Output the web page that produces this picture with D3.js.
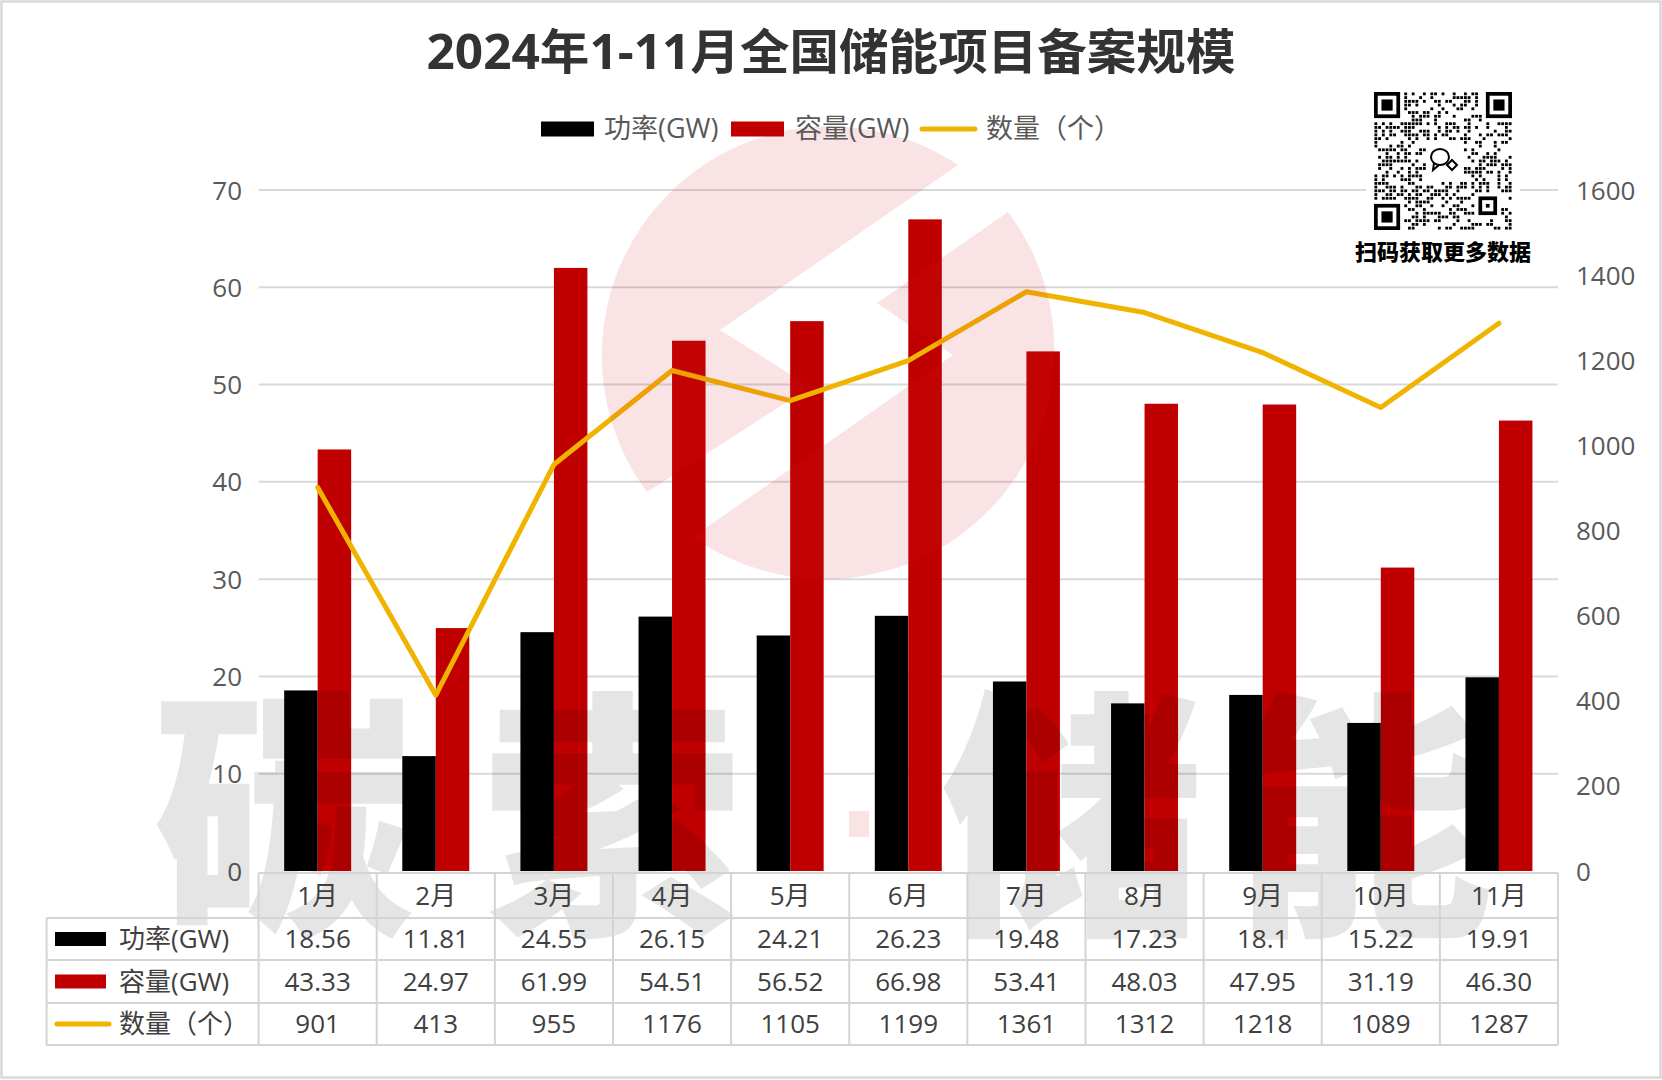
<!DOCTYPE html>
<html>
<head>
<meta charset="utf-8">
<script src="https://cdn.jsdelivr.net/npm/d3@7"></script>
<style>
  html, body { margin: 0; padding: 0; background: #fff; }
  svg { display: block; }
  text { font-family: "Open Sans", "Noto Sans CJK SC", sans-serif; }
</style>
</head>
<body>
<svg id="chart" width="1662" height="1080"></svg>
<script>
// ---------------- data ----------------
const title = "2024年1-11月全国储能项目备案规模";
const months = ["1月","2月","3月","4月","5月","6月","7月","8月","9月","10月","11月"];
const power = [18.56, 11.81, 24.55, 26.15, 24.21, 26.23, 19.48, 17.23, 18.1, 15.22, 19.91];
const capacity = [43.33, 24.97, 61.99, 54.51, 56.52, 66.98, 53.41, 48.03, 47.95, 31.19, 46.30];
const count = [901, 413, 955, 1176, 1105, 1199, 1361, 1312, 1218, 1089, 1287];
const leftTicks = [0, 10, 20, 30, 40, 50, 60, 70];
const rightTicks = [0, 200, 400, 600, 800, 1000, 1200, 1400, 1600];
const seriesNames = ["功率(GW)", "容量(GW)", "数量（个）"];
const qrCaption = "扫码获取更多数据";
const watermarkChars = ["碳", "索", "储", "能"];

// ---------------- layout ----------------
const W = 1662, H = 1080;
const plot = { left: 258.6, right: 1558, top: 190, bottom: 871 };
const colors = { power: "#000000", capacity: "#C00000", count: "#F0B400" };
const grid = "#d9d9d9";

const svg = d3.select("#chart");

// outer frame
svg.append("rect").attr("x", 1.5).attr("y", 1.5).attr("width", W - 3).attr("height", H - 4)
  .attr("fill", "#fff").attr("stroke", "#d9d9d9").attr("stroke-width", 2.5);

// scales
const x0 = d3.scaleBand().domain(months).range([plot.left, plot.right]).padding(0);
const groupW = x0.bandwidth() * 0.567;
const x1 = d3.scaleBand().domain(["power", "capacity"])
  .range([(x0.bandwidth() - groupW) / 2, (x0.bandwidth() + groupW) / 2]).padding(0);
const yL = d3.scaleLinear().domain([0, 70]).range([plot.bottom, plot.top]);
const yR = d3.scaleLinear().domain([0, 1600]).range([plot.bottom, plot.top]);

// gridlines
svg.append("g").selectAll("line").data(leftTicks.filter(d => d > 0)).join("line")
  .attr("x1", plot.left).attr("x2", plot.right)
  .attr("y1", d => yL(d)).attr("y2", d => yL(d))
  .attr("stroke", grid).attr("stroke-width", 2);

// left axis labels
const axL = svg.append("g").attr("transform", `translate(${242},0)`)
  .call(d3.axisLeft(yL).tickValues(leftTicks).tickFormat(d3.format("d")).tickSize(0).tickPadding(0));
axL.select(".domain").remove();
axL.selectAll("text").attr("font-size", 26).attr("fill", "#595959")
  .attr("font-family", "'Open Sans', 'Noto Sans CJK SC', sans-serif").attr("dy", "0.35em");

// right axis labels
const axR = svg.append("g").attr("transform", `translate(${1576},0)`)
  .call(d3.axisRight(yR).tickValues(rightTicks).tickFormat(d3.format("d")).tickSize(0).tickPadding(0));
axR.select(".domain").remove();
axR.selectAll("text").attr("font-size", 26).attr("fill", "#595959")
  .attr("font-family", "'Open Sans', 'Noto Sans CJK SC', sans-serif").attr("dy", "0.35em");

// bars
const barData = months.map((m, i) => ({ m, power: power[i], capacity: capacity[i] }));
const groups = svg.append("g").selectAll("g").data(barData).join("g")
  .attr("transform", d => `translate(${x0(d.m)},0)`);
groups.selectAll("rect").data(d => ["power", "capacity"].map(k => ({ k, v: d[k] }))).join("rect")
  .attr("x", d => x1(d.k)).attr("width", x1.bandwidth())
  .attr("y", d => yL(d.v)).attr("height", d => yL(0) - yL(d.v))
  .attr("fill", d => colors[d.k]);

// line
const line = d3.line().x((d, i) => x0(months[i]) + x0.bandwidth() / 2).y(d => yR(d));
svg.append("path").datum(count).attr("d", line)
  .attr("fill", "none").attr("stroke", colors.count).attr("stroke-width", 5)
  .attr("stroke-linejoin", "round").attr("stroke-linecap", "round");

// logo watermark (pale red overlay)
const logo = svg.append("g").attr("fill", "rgba(215,25,35,0.12)");
const r = 229;
const A = [958, 165], D = [720, 330], C = [810, 387], B = [647, 492];
logo.append("path").attr("d",
  `M${A[0]},${A[1]} A${r},${r} 0 0 0 ${B[0]},${B[1]} L${C[0]},${C[1]} L${D[0]},${D[1]} Z`);
const E = [1008, 212], F = [877, 303], G = [953, 355], Hh = [693, 537];
logo.append("path").attr("d",
  `M${E[0]},${E[1]} L${F[0]},${F[1]} L${G[0]},${G[1]} L${Hh[0]},${Hh[1]} A${r},${r} 0 0 0 ${E[0]},${E[1]} Z`);

// text watermark
const wm = svg.append("g").attr("fill", "rgba(0,0,0,0.1)")
  .attr("font-family", "'Noto Sans CJK SC', sans-serif").attr("font-weight", 900)
  .attr("font-size", 262).attr("text-anchor", "middle");
const wmX = [284, 612, 1072, 1362];
wm.selectAll("text").data(watermarkChars).join("text")
  .attr("x", (d, i) => wmX[i]).attr("y", 915).text(d => d);
svg.append("rect").attr("x", 849).attr("y", 811).attr("width", 20).attr("height", 26)
  .attr("fill", "rgba(215,25,35,0.12)");

// ---------------- data table ----------------
const tbl = svg.append("g");
const tLeft = 46.6;
const rowsY = [873, 918, 960, 1003, 1045];
const colX = months.map(m => x0(m)).concat([plot.right]);
const tStroke = "#d4d4d4";
tbl.append("line").attr("x1", plot.left).attr("x2", plot.right).attr("y1", rowsY[0]).attr("y2", rowsY[0])
  .attr("stroke", tStroke).attr("stroke-width", 2);
rowsY.slice(1).forEach(y => {
  tbl.append("line").attr("x1", tLeft).attr("x2", plot.right).attr("y1", y).attr("y2", y)
    .attr("stroke", tStroke).attr("stroke-width", 2);
});
colX.forEach(x => {
  tbl.append("line").attr("x1", x).attr("x2", x).attr("y1", rowsY[0]).attr("y2", rowsY[4])
    .attr("stroke", tStroke).attr("stroke-width", 2);
});
tbl.append("line").attr("x1", tLeft).attr("x2", tLeft).attr("y1", rowsY[1]).attr("y2", rowsY[4])
  .attr("stroke", tStroke).attr("stroke-width", 2);

const cellText = (x, y, t, anchor) => tbl.append("text").attr("x", x).attr("y", y)
  .attr("text-anchor", anchor || "middle").attr("dy", "0.35em")
  .attr("font-size", 26).attr("fill", "#404040").text(t);

months.forEach((m, i) => {
  const cxm = x0(m) + x0.bandwidth() / 2;
  cellText(cxm, (rowsY[0] + rowsY[1]) / 2, m);
  cellText(cxm, (rowsY[1] + rowsY[2]) / 2, String(power[i]));
  cellText(cxm, (rowsY[2] + rowsY[3]) / 2, d3.format(".2f")(capacity[i]));
  cellText(cxm, (rowsY[3] + rowsY[4]) / 2, String(count[i]));
});
[0, 1].forEach(k => {
  const yc = (rowsY[k + 1] + rowsY[k + 2]) / 2;
  tbl.append("rect").attr("x", 55).attr("y", yc - 7).attr("width", 51).attr("height", 14)
    .attr("fill", k === 0 ? colors.power : colors.capacity);
  cellText(119, yc, seriesNames[k], "start");
});
{
  const yc = (rowsY[3] + rowsY[4]) / 2;
  tbl.append("line").attr("x1", 57).attr("x2", 109).attr("y1", yc).attr("y2", yc)
    .attr("stroke", colors.count).attr("stroke-width", 5).attr("stroke-linecap", "round");
  cellText(119, yc, seriesNames[2], "start");
}

// ---------------- title ----------------
svg.append("text").attr("x", 831).attr("y", 52).attr("text-anchor", "middle").attr("dy", "0.35em")
  .attr("font-family", "'Noto Sans CJK SC', sans-serif").attr("font-weight", 700)
  .attr("font-size", 48).attr("fill", "#333333")
  .attr("textLength", 809).attr("lengthAdjust", "spacingAndGlyphs")
  .text(title);

// ---------------- legend ----------------
const lg = svg.append("g");
const ly = 129;
lg.append("rect").attr("x", 541).attr("y", ly - 7.5).attr("width", 53).attr("height", 15).attr("fill", colors.power);
lg.append("text").attr("x", 604).attr("y", ly).attr("dy", "0.35em").attr("font-size", 27).attr("fill", "#595959").text(seriesNames[0]);
lg.append("rect").attr("x", 731).attr("y", ly - 7.5).attr("width", 53).attr("height", 15).attr("fill", colors.capacity);
lg.append("text").attr("x", 795).attr("y", ly).attr("dy", "0.35em").attr("font-size", 27).attr("fill", "#595959").text(seriesNames[1]);
lg.append("line").attr("x1", 922).attr("x2", 975).attr("y1", ly).attr("y2", ly)
  .attr("stroke", colors.count).attr("stroke-width", 5).attr("stroke-linecap", "round");
lg.append("text").attr("x", 986).attr("y", ly).attr("dy", "0.35em").attr("font-size", 27).attr("fill", "#595959").text(seriesNames[2]);

// ---------------- QR code (decorative) ----------------
const qr = svg.append("g");
const qx = 1374, qy = 92, qs = 138, n = 37, ms = qs / n;
qr.append("rect").attr("x", qx - 8).attr("y", qy - 6).attr("width", qs + 16).attr("height", qs + 12).attr("fill", "#fff");
function inFinder(i, j) {
  return (i < 8 && j < 8) || (i < 8 && j >= n - 8) || (i >= n - 8 && j < 8);
}
function inCenter(i, j) { return i >= 13 && i <= 23 && j >= 14 && j <= 23; }
function inAlign(i, j) { return i >= 27 && i <= 33 && j >= 27 && j <= 33; }
const cells = [];
for (let i = 0; i < n; i++) for (let j = 0; j < n; j++) {
  if (inFinder(i, j) || inCenter(i, j) || inAlign(i, j)) continue;
  const h = ((i * 73856093) ^ (j * 19349663) ^ (i * j * 83492791)) >>> 0;
  if (h % 100 < 48) cells.push([i, j]);
}
qr.selectAll("rect.m").data(cells).join("rect").attr("class", "m")
  .attr("x", d => qx + d[1] * ms + ms * 0.12).attr("y", d => qy + d[0] * ms + ms * 0.12)
  .attr("width", ms * 0.76).attr("height", ms * 0.76).attr("fill", "#000");
function finder(i, j, size) {
  const x = qx + j * ms, y = qy + i * ms;
  qr.append("rect").attr("x", x).attr("y", y).attr("width", size * ms).attr("height", size * ms).attr("fill", "#000");
  qr.append("rect").attr("x", x + ms).attr("y", y + ms).attr("width", (size - 2) * ms).attr("height", (size - 2) * ms).attr("fill", "#fff");
  qr.append("rect").attr("x", x + 2 * ms).attr("y", y + 2 * ms).attr("width", (size - 4) * ms).attr("height", (size - 4) * ms).attr("fill", "#000");
}
finder(0, 0, 7); finder(0, n - 7, 7); finder(n - 7, 0, 7);
{
  const x = qx + 28 * ms, y = qy + 28 * ms;
  qr.append("rect").attr("x", x).attr("y", y).attr("width", 5 * ms).attr("height", 5 * ms).attr("fill", "#000");
  qr.append("rect").attr("x", x + ms).attr("y", y + ms).attr("width", 3 * ms).attr("height", 3 * ms).attr("fill", "#fff");
  qr.append("rect").attr("x", x + 2 * ms).attr("y", y + 2 * ms).attr("width", ms).attr("height", ms).attr("fill", "#000");
}
qr.append("ellipse").attr("cx", 1440).attr("cy", 157).attr("rx", 9).attr("ry", 8)
  .attr("fill", "none").attr("stroke", "#000").attr("stroke-width", 2);
qr.append("path").attr("d", "M1434,163 L1433,170 L1439,165").attr("fill", "none").attr("stroke", "#000").attr("stroke-width", 2);
qr.append("path").attr("d", "M1452,160 L1457,165 L1452,170 L1447,165 Z").attr("fill", "none").attr("stroke", "#000").attr("stroke-width", 2);

svg.append("text").attr("x", 1443).attr("y", 252).attr("text-anchor", "middle").attr("dy", "0.35em")
  .attr("font-family", "'Noto Sans CJK SC', sans-serif").attr("font-weight", 900)
  .attr("font-size", 22).attr("fill", "#000").text(qrCaption);
</script>
</body>
</html>
